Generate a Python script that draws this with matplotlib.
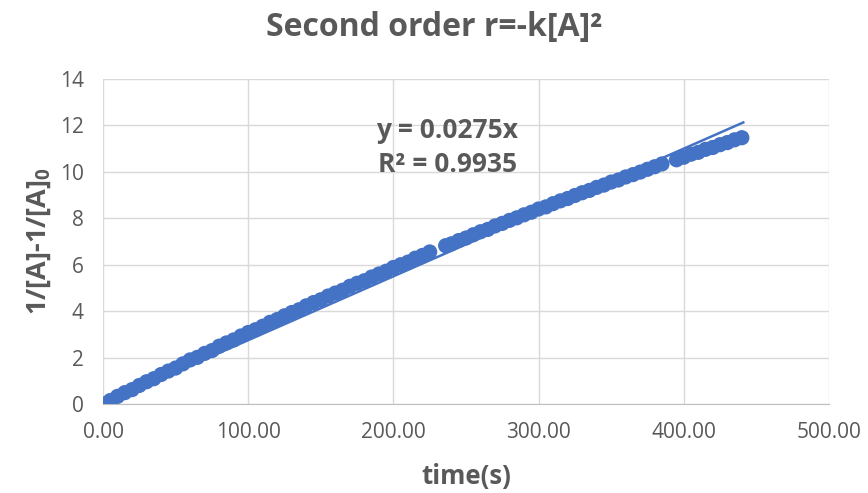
import matplotlib
matplotlib.use('Agg')
import matplotlib.pyplot as plt
from matplotlib.ticker import FormatStrFormatter

plt.rcParams['font.family'] = ['Open Sans', 'DejaVu Sans']
plt.rcParams['mathtext.fontset'] = 'custom'
plt.rcParams['mathtext.rm'] = 'Open Sans'
plt.rcParams['mathtext.bf'] = 'Open Sans:bold'

# data (time in s, 1/[A]-1/[A]0)
time_s = [0, 5, 10, 15, 20, 25, 30, 35, 40, 45, 50, 55, 60, 65, 70, 75, 80, 85, 90, 95,
          100, 105, 110, 115, 120, 125, 130, 135, 140, 145, 150, 155, 160, 165, 170, 175,
          180, 185, 190, 195, 200, 205, 210, 215, 220, 225,
          236, 240, 245, 250, 255, 260, 265, 270, 275, 280, 285, 290, 295, 300, 305, 310,
          315, 320, 325, 330, 335, 340, 345, 350, 355, 360, 365, 370, 375, 380, 385,
          395, 400, 405, 410, 415, 420, 425, 430, 435, 440]
inv_diff = [0.00, 0.15, 0.33, 0.49, 0.62, 0.80, 0.96, 1.09, 1.27, 1.42, 1.55, 1.73, 1.90, 2.01, 2.18,
            2.30, 2.49, 2.63, 2.76, 2.93, 3.08, 3.20, 3.35, 3.52, 3.64, 3.80, 3.94, 4.06, 4.23,
            4.37, 4.49, 4.65, 4.78, 4.90, 5.07, 5.20, 5.31, 5.47, 5.60, 5.72, 5.88, 6.00, 6.11,
            6.28, 6.40, 6.55,
            6.82, 6.90, 7.04, 7.15, 7.29, 7.42, 7.52, 7.67, 7.78, 7.91, 8.02, 8.15, 8.26, 8.40,
            8.49, 8.63, 8.75, 8.85, 8.98, 9.10, 9.20, 9.33, 9.43, 9.56, 9.65, 9.78, 9.88, 9.99,
            10.11, 10.22, 10.34,
            10.52, 10.63, 10.76, 10.84, 10.97, 11.05, 11.17, 11.26, 11.38, 11.47]

slope = 0.0275
fit_x = [0, 441]
eq_text = 'y = 0.0275x\nR² = 0.9935'

blue = '#4472C4'
grey = '#595959'

fig = plt.figure(figsize=(8.68, 4.93), dpi=100)
ax = fig.add_axes([0.1187, 0.1805, 0.8363, 0.6593])

ax.plot(fit_x, [slope * v for v in fit_x], color=blue, lw=1.8, zorder=2)
ax.scatter(time_s, inv_diff, s=120, color=blue, edgecolors='none', zorder=3)

ax.set_xlim(0, 500)
ax.set_ylim(0, 14)
ax.set_xticks(range(0, 501, 100))
ax.set_yticks(range(0, 15, 2))
ax.xaxis.set_major_formatter(FormatStrFormatter('%.2f'))
ax.grid(True, color='#D9D9D9', lw=1.0, zorder=0)
ax.set_axisbelow(True)
for s in ['top', 'right', 'left']:
    ax.spines[s].set_visible(False)
ax.spines['bottom'].set_color('#BFBFBF')
ax.tick_params(length=0, labelsize=15, labelcolor=grey)
ax.tick_params(axis='x', pad=13)
ax.tick_params(axis='y', pad=14)

fig.text(0.5, 0.945, 'Second order r=-k[A]²', ha='center', va='center', fontsize=23,
         fontweight='bold', color=grey)
ax.set_xlabel('time(s)', fontsize=18.5, fontweight='bold', color=grey, labelpad=14)
ax.set_ylabel('1/[A]-1/[A]$\\mathbf{_0}$', fontsize=19.5, fontweight='bold', color=grey, labelpad=5)

ax.text(237, 11.05, eq_text, ha='center', va='center', fontsize=19, fontweight='bold',
        color=grey, linespacing=1.3)

fig.savefig('out.png', dpi=100)
